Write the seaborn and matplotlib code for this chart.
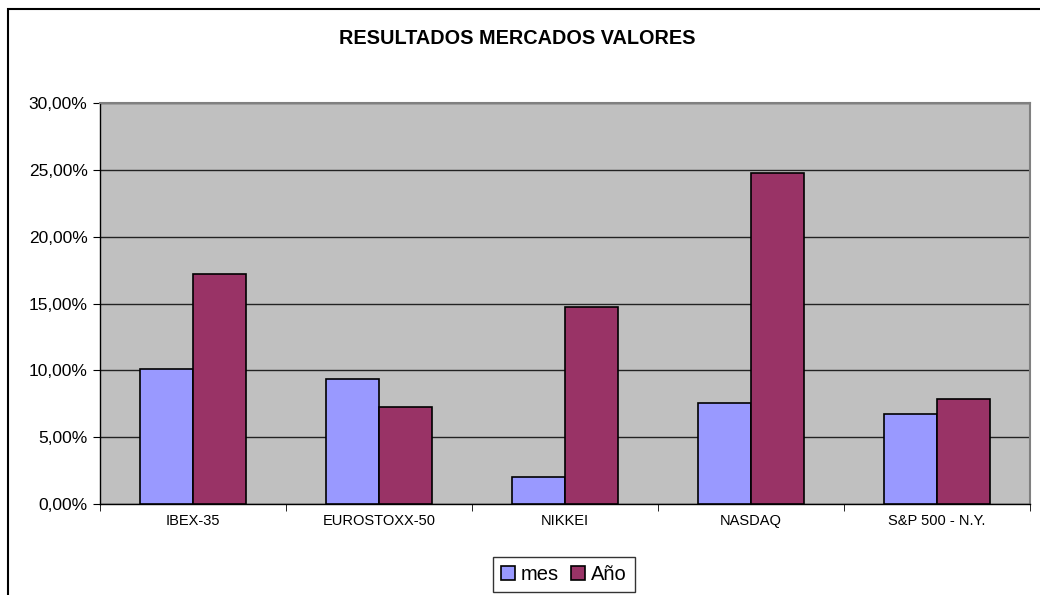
import numpy as np
import pandas as pd
import matplotlib
matplotlib.use('Agg')
import matplotlib.pyplot as plt
from matplotlib.patches import Rectangle
from matplotlib.ticker import FuncFormatter, FixedLocator
import seaborn as sns

indices = ['IBEX-35', 'EUROSTOXX-50', 'NIKKEI', 'NASDAQ', 'S&P 500 - N.Y.']
mes = [10.08, 9.36, 2.02, 7.54, 6.72]
anio = [17.18, 7.29, 14.76, 24.72, 7.89]
series = ['mes', 'Año']
colors = ['#9999FF', '#993366']
y_ticks = [0, 5, 10, 15, 20, 25, 30]
title = 'RESULTADOS MERCADOS VALORES'


def pct_fmt(v, pos):
    return f'{v:.2f}'.replace('.', ',') + '%'


def main():
    sns.set_style('white')
    plt.rcParams['font.family'] = ['Liberation Sans', 'DejaVu Sans']
    plt.rcParams['text.color'] = 'black'
    plt.rcParams['xtick.color'] = 'black'
    plt.rcParams['ytick.color'] = 'black'

    df = pd.DataFrame({'indice': indices * 2,
                       'valor': mes + anio,
                       'serie': [series[0]] * len(indices) + [series[1]] * len(indices)})

    fig = plt.figure(figsize=(10.4, 5.95), dpi=100)
    ax = fig.add_axes([100 / 1040, 1 - 504.3 / 595, 930 / 1040, 401.6 / 595])
    ax.set_facecolor('#C0C0C0')

    sns.barplot(data=df, x='indice', y='valor', hue='serie', palette=colors, saturation=1,
                width=0.57, gap=0, edgecolor='black', linewidth=1.2, ax=ax, zorder=3, legend=True)

    ax.set_ylim(0, 30)
    ax.set_xlim(-0.5, len(indices) - 0.5)
    ax.yaxis.set_major_locator(FixedLocator(y_ticks))
    ax.yaxis.set_major_formatter(FuncFormatter(pct_fmt))
    ax.grid(axis='y', color='#222222', linewidth=1, zorder=1)
    ax.set_axisbelow(True)
    ax.set_xlabel('')
    ax.set_ylabel('')

    # category boundary ticks like excel
    ax.set_xticks(np.arange(-0.5, len(indices), 1), minor=True)
    ax.tick_params(axis='x', which='major', length=0, pad=7, labelsize=10.5)
    ax.tick_params(axis='x', which='minor', length=5, direction='out', color='black', bottom=True)
    ax.tick_params(axis='y', length=5, direction='out', color='black', left=True, labelsize=12.5, pad=4)

    for side in ['top', 'right']:
        ax.spines[side].set_color('#808080')
        ax.spines[side].set_linewidth(1.5)
    for side in ['left', 'bottom']:
        ax.spines[side].set_color('black')
        ax.spines[side].set_linewidth(1)

    handles, labels = ax.get_legend_handles_labels()
    ax.get_legend().remove()
    leg = fig.legend(handles, labels, loc='upper center', bbox_to_anchor=(564 / 1040, 1 - 557 / 595),
                     ncol=2, frameon=True, fancybox=False, edgecolor='black', fontsize=14.5,
                     handlelength=0.7, handleheight=0.7, handletextpad=0.3, columnspacing=0.6,
                     borderpad=0.4, borderaxespad=0)
    leg.get_frame().set_linewidth(1)

    fig.text(517 / 1040, 1 - 38 / 595, title, ha='center', va='center', fontsize=14.3,
             fontweight='bold', color='black')

    # outer chart frame
    fig.patches.append(Rectangle((8 / 1040, -0.1), 1.2, 1.1 - 9 / 595, transform=fig.transFigure,
                                 fill=False, edgecolor='black', linewidth=1.5))

    fig.savefig('out.png', dpi=100)


if __name__ == "__main__":
    main()
